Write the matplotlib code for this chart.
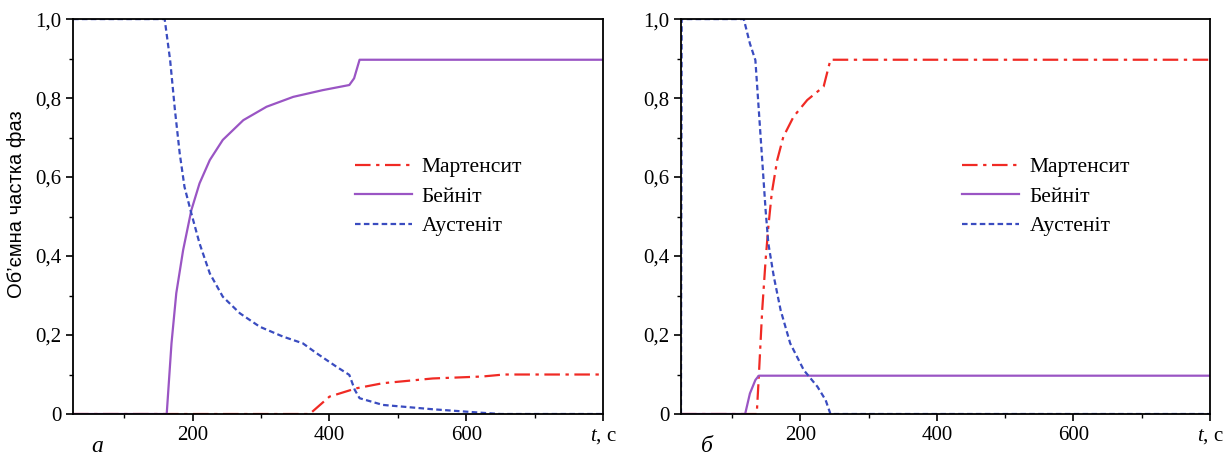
import numpy as np
import matplotlib.pyplot as plt
from matplotlib.ticker import FixedLocator, MultipleLocator

plt.rc('font', family='Liberation Serif')
plt.rc('mathtext', fontset='custom', it='Liberation Serif:italic', rm='Liberation Serif')

# панель а
t_aus_a = [25, 159, 167, 174, 181, 188, 198, 210, 225, 244, 269, 298, 332, 361, 381, 410, 429,
           437, 444, 478, 551, 624, 650, 800]
v_aus_a = [1.0, 1.0, 0.896, 0.77, 0.66, 0.575, 0.508, 0.432, 0.356, 0.297, 0.255, 0.221, 0.196,
           0.179, 0.154, 0.12, 0.099, 0.061, 0.04, 0.023, 0.012, 0.003, 0.0, 0.0]
t_bai_a = [25, 162, 169, 176, 186, 198, 210, 225, 244, 274, 308, 347, 390, 429, 436, 444, 800]
v_bai_a = [0.0, 0.0, 0.179, 0.306, 0.415, 0.516, 0.584, 0.643, 0.694, 0.744, 0.778, 0.803, 0.82,
           0.833, 0.85, 0.897, 0.897]
t_mar_a = [25, 371, 400, 439, 478, 551, 624, 655, 800]
v_mar_a = [0.0, 0.0, 0.044, 0.065, 0.078, 0.09, 0.095, 0.1, 0.1]

# панель б
t_aus_b = [25, 26, 117, 126, 134, 139, 144, 149, 153, 161, 171, 185, 205, 225, 237, 244, 800]
v_aus_b = [0.0, 1.0, 1.0, 0.938, 0.896, 0.77, 0.643, 0.516, 0.432, 0.348, 0.263, 0.179, 0.111,
           0.069, 0.035, 0.0, 0.0]
t_bai_b = [25, 119, 126, 134, 139, 800]
v_bai_b = [0.0, 0.0, 0.052, 0.086, 0.097, 0.097]
t_mar_b = [25, 136, 139, 144, 149, 153, 158, 166, 175, 190, 210, 234, 244, 800]
v_mar_b = [0.0, 0.0, 0.094, 0.263, 0.39, 0.474, 0.559, 0.643, 0.702, 0.753, 0.795, 0.829,
           0.897, 0.897]

yticks = [0, 0.2, 0.4, 0.6, 0.8, 1.0]
ylabels = ['0', '0,2', '0,4', '0,6', '0,8', '1,0']
xticks = [200, 400, 600]

c_mar = '#f02a24'
c_bai = '#9a55c4'
c_aus = '#3a4cc0'

fig = plt.figure(figsize=(12.25, 4.55), dpi=100)
ax1 = fig.add_axes([0.0596, 0.0901, 0.4327, 0.868])
ax2 = fig.add_axes([0.5559, 0.0901, 0.4318, 0.868])

panels = [(ax1, t_mar_a, v_mar_a, t_bai_a, v_bai_a, t_aus_a, v_aus_a, 'а', 0.079),
          (ax2, t_mar_b, v_mar_b, t_bai_b, v_bai_b, t_aus_b, v_aus_b, 'б', 0.577)]

for ax, tm, vm, tb, vb, ta, va, lab, lx in panels:
    ax.plot(tm, vm, color=c_mar, lw=1.6, dashes=(7, 2.5, 1.5, 2.5), label='Мартенсит')
    ax.plot(tb, vb, color=c_bai, lw=1.6, label='Бейніт')
    ax.plot(ta, va, color=c_aus, lw=1.6, dashes=(2.5, 1.5), label='Аустеніт')
    ax.set_xlim(25, 800)
    ax.set_ylim(0, 1.0)
    ax.xaxis.set_major_locator(FixedLocator(xticks + [800]))
    ax.set_xticklabels(['200', '400', '600', ''])
    ax.xaxis.set_minor_locator(FixedLocator([100, 300, 500, 700]))
    ax.set_yticks(yticks)
    ax.set_yticklabels(ylabels)
    ax.yaxis.set_minor_locator(MultipleLocator(0.1))
    ax.tick_params(which='major', direction='out', length=5, width=1.2, labelsize=15)
    ax.tick_params(which='minor', direction='out', length=3, width=1.0)
    for s in ax.spines.values():
        s.set_linewidth(1.3)
    ax.legend(loc='center left', bbox_to_anchor=(0.495, 0.55), frameon=False,
              fontsize=15.5, handlelength=2.65, handletextpad=0.47, labelspacing=0.44)
    ax.text(1.0, -0.058, r'$t$, с', transform=ax.transAxes, ha='center', va='center', fontsize=15)
    fig.text(lx, 0.018, lab, style='italic', fontsize=17, ha='center', va='center')

ax1.set_ylabel('Об’ємна частка фаз', family='Liberation Sans', fontsize=14.5)
ax1.yaxis.set_label_coords(-0.088, 0.53)

plt.savefig('out.png', dpi=100)
plt.close()
